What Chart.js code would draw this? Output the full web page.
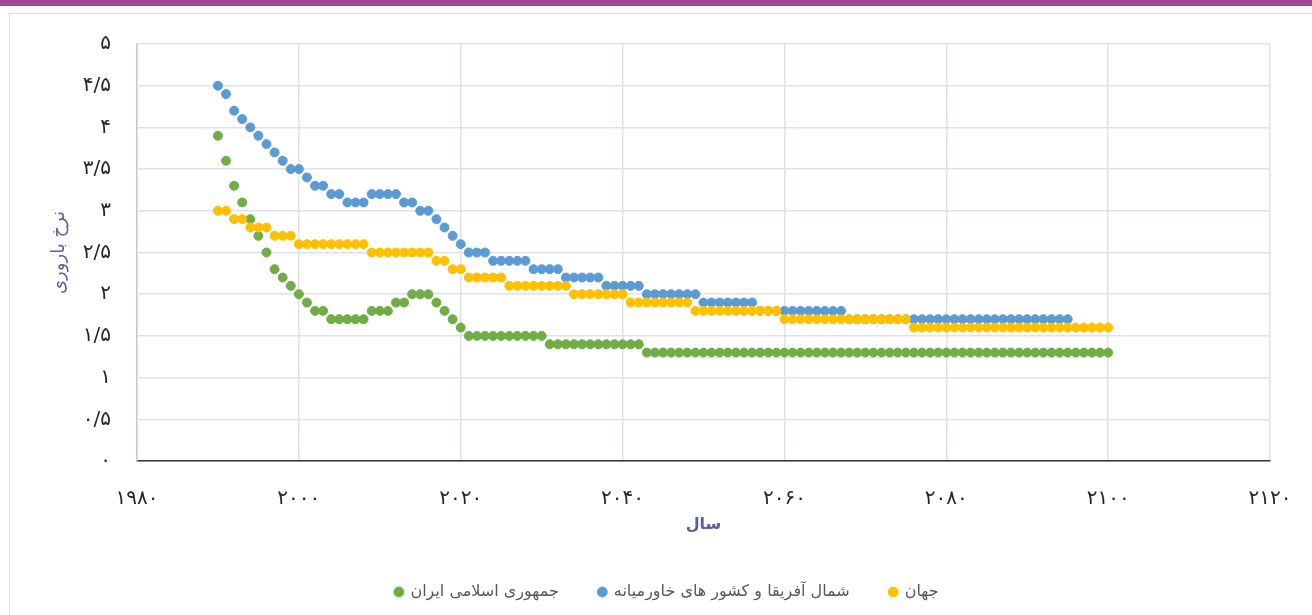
<!DOCTYPE html>
<html lang="fa">
<head>
<meta charset="utf-8">
<title>نرخ باروری</title>
<script src="https://cdn.jsdelivr.net/npm/chart.js@4.4.0/dist/chart.umd.min.js"></script>
<style>
  html, body { margin: 0; padding: 0; background: #fff; }
  body { width: 1312px; height: 615px; position: relative; overflow: hidden; }
  .topbar { position: absolute; left: 0; top: 0; width: 1312px; height: 6px; background: #A14A9B; }
  .frame { position: absolute; left: 9px; top: 13px; width: 1310px; height: 640px; border: 1px solid #DCE0E8; }
  .wrap { position: absolute; left: 0; top: 0; width: 1312px; height: 615px; }
</style>
</head>
<body>
<div class="topbar"></div>
<div class="frame"></div>
<div class="wrap"><canvas id="fertilityChart"></canvas></div>
<script>
/* ============================================================
   DATA
   ============================================================ */
const years = [
    1990, 1991, 1992, 1993, 1994, 1995, 1996, 1997, 1998, 1999,
    2000, 2001, 2002, 2003, 2004, 2005, 2006, 2007, 2008, 2009,
    2010, 2011, 2012, 2013, 2014, 2015, 2016, 2017, 2018, 2019,
    2020, 2021, 2022, 2023, 2024, 2025, 2026, 2027, 2028, 2029,
    2030, 2031, 2032, 2033, 2034, 2035, 2036, 2037, 2038, 2039,
    2040, 2041, 2042, 2043, 2044, 2045, 2046, 2047, 2048, 2049,
    2050, 2051, 2052, 2053, 2054, 2055, 2056, 2057, 2058, 2059,
    2060, 2061, 2062, 2063, 2064, 2065, 2066, 2067, 2068, 2069,
    2070, 2071, 2072, 2073, 2074, 2075, 2076, 2077, 2078, 2079,
    2080, 2081, 2082, 2083, 2084, 2085, 2086, 2087, 2088, 2089,
    2090, 2091, 2092, 2093, 2094, 2095, 2096, 2097, 2098, 2099,
    2100
];

const seriesNames = ["جمهوری اسلامی ایران", "شمال آفریقا و کشور های خاورمیانه", "جهان"];

// Iran, 1990-2100
const iranRate = [
    3.9, 3.6, 3.3, 3.1, 2.9, 2.7, 2.5, 2.3, 2.2, 2.1,
    2.0, 1.9, 1.8, 1.8, 1.7, 1.7, 1.7, 1.7, 1.7, 1.8,
    1.8, 1.8, 1.9, 1.9, 2.0, 2.0, 2.0, 1.9, 1.8, 1.7,
    1.6, 1.5, 1.5, 1.5, 1.5, 1.5, 1.5, 1.5, 1.5, 1.5,
    1.5, 1.4, 1.4, 1.4, 1.4, 1.4, 1.4, 1.4, 1.4, 1.4,
    1.4, 1.4, 1.4, 1.3, 1.3, 1.3, 1.3, 1.3, 1.3, 1.3,
    1.3, 1.3, 1.3, 1.3, 1.3, 1.3, 1.3, 1.3, 1.3, 1.3,
    1.3, 1.3, 1.3, 1.3, 1.3, 1.3, 1.3, 1.3, 1.3, 1.3,
    1.3, 1.3, 1.3, 1.3, 1.3, 1.3, 1.3, 1.3, 1.3, 1.3,
    1.3, 1.3, 1.3, 1.3, 1.3, 1.3, 1.3, 1.3, 1.3, 1.3,
    1.3, 1.3, 1.3, 1.3, 1.3, 1.3, 1.3, 1.3, 1.3, 1.3,
    1.3
];

// North Africa & Middle East, 1990-2095
const menaRate = [
    4.5, 4.4, 4.2, 4.1, 4.0, 3.9, 3.8, 3.7, 3.6, 3.5,
    3.5, 3.4, 3.3, 3.3, 3.2, 3.2, 3.1, 3.1, 3.1, 3.2,
    3.2, 3.2, 3.2, 3.1, 3.1, 3.0, 3.0, 2.9, 2.8, 2.7,
    2.6, 2.5, 2.5, 2.5, 2.4, 2.4, 2.4, 2.4, 2.4, 2.3,
    2.3, 2.3, 2.3, 2.2, 2.2, 2.2, 2.2, 2.2, 2.1, 2.1,
    2.1, 2.1, 2.1, 2.0, 2.0, 2.0, 2.0, 2.0, 2.0, 2.0,
    1.9, 1.9, 1.9, 1.9, 1.9, 1.9, 1.9, 1.8, 1.8, 1.8,
    1.8, 1.8, 1.8, 1.8, 1.8, 1.8, 1.8, 1.8, 1.7, 1.7,
    1.7, 1.7, 1.7, 1.7, 1.7, 1.7, 1.7, 1.7, 1.7, 1.7,
    1.7, 1.7, 1.7, 1.7, 1.7, 1.7, 1.7, 1.7, 1.7, 1.7,
    1.7, 1.7, 1.7, 1.7, 1.7, 1.7
];

// World, 1990-2100
const worldRate = [
    3.0, 3.0, 2.9, 2.9, 2.8, 2.8, 2.8, 2.7, 2.7, 2.7,
    2.6, 2.6, 2.6, 2.6, 2.6, 2.6, 2.6, 2.6, 2.6, 2.5,
    2.5, 2.5, 2.5, 2.5, 2.5, 2.5, 2.5, 2.4, 2.4, 2.3,
    2.3, 2.2, 2.2, 2.2, 2.2, 2.2, 2.1, 2.1, 2.1, 2.1,
    2.1, 2.1, 2.1, 2.1, 2.0, 2.0, 2.0, 2.0, 2.0, 2.0,
    2.0, 1.9, 1.9, 1.9, 1.9, 1.9, 1.9, 1.9, 1.9, 1.8,
    1.8, 1.8, 1.8, 1.8, 1.8, 1.8, 1.8, 1.8, 1.8, 1.8,
    1.7, 1.7, 1.7, 1.7, 1.7, 1.7, 1.7, 1.7, 1.7, 1.7,
    1.7, 1.7, 1.7, 1.7, 1.7, 1.7, 1.6, 1.6, 1.6, 1.6,
    1.6, 1.6, 1.6, 1.6, 1.6, 1.6, 1.6, 1.6, 1.6, 1.6,
    1.6, 1.6, 1.6, 1.6, 1.6, 1.6, 1.6, 1.6, 1.6, 1.6,
    1.6
];

const xTickLabels = ["۱۹۸۰", "۲۰۰۰", "۲۰۲۰", "۲۰۴۰", "۲۰۶۰", "۲۰۸۰", "۲۱۰۰", "۲۱۲۰"];
const yTickLabels = ["۰", "۰/۵", "۱", "۱/۵", "۲", "۲/۵", "۳", "۳/۵", "۴", "۴/۵", "۵"];


/* ============================================================
   DRAW CHART
   ============================================================ */
function toPoints(values) {
    return values.map((v, i) => ({ x: years[i], y: v }));
}

const FONT = "'DejaVu Sans', sans-serif";
const TITLE_COLOR = "#5D5FA5";
const GRID_COLOR = "#DDE1E9";

// legend in the original sits a little right of the canvas centre
const legendShift = {
    id: "legendShift",
    afterLayout(chart) {
        chart.legend.left += 32;
        chart.legend.right += 32;
    }
};

new Chart(document.getElementById("fertilityChart"), {
    type: "scatter",
    data: {
        datasets: [
            {
                label: seriesNames[0],
                data: toPoints(iranRate),
                backgroundColor: "#70AD47",
                borderColor: "#70AD47",
                order: 2
            },
            {
                label: seriesNames[1],
                data: toPoints(menaRate),
                backgroundColor: "#5B9BD5",
                borderColor: "#5B9BD5",
                order: 1
            },
            {
                label: seriesNames[2],
                data: toPoints(worldRate),
                backgroundColor: "#FFC000",
                borderColor: "#FFC000",
                order: 0
            }
        ]
    },
    options: {
        responsive: true,
        maintainAspectRatio: false,
        animation: false,
        elements: {
            point: { radius: 4.5, borderWidth: 1, hoverRadius: 5 }
        },
        layout: {
            padding: { top: 44, right: 42, bottom: 5, left: 0 }
        },
        scales: {
            x: {
                type: "linear",
                min: 1980,
                max: 2120,
                afterFit: s => { s.height = 83; },
                ticks: {
                    stepSize: 20,
                    padding: 14,
                    color: "#262626",
                    font: { family: FONT, size: 20 },
                    callback: v => xTickLabels[Math.round((v - 1980) / 20)]
                },
                grid: {
                    color: GRID_COLOR,
                    lineWidth: 1.5,
                    drawTicks: true,
                    tickLength: 12,
                    tickColor: "rgba(0,0,0,0)"
                },
                border: { color: "#333333", width: 1.5 },
                title: {
                    display: true,
                    text: "سال",
                    color: TITLE_COLOR,
                    font: { family: FONT, size: 16, weight: "bold" },
                    padding: { top: 4, bottom: 10 }
                }
            },
            y: {
                min: 0,
                max: 5,
                afterFit: s => { s.width = 137; },
                ticks: {
                    stepSize: 0.5,
                    padding: 26,
                    color: "#262626",
                    font: { family: FONT, size: 20 },
                    callback: v => yTickLabels[Math.round(v / 0.5)]
                },
                grid: { color: GRID_COLOR, lineWidth: 1.5, drawTicks: false },
                border: { color: "#C5CBD6", width: 1.5 },
                title: {
                    display: true,
                    text: "نرخ باروری",
                    color: TITLE_COLOR,
                    font: { family: FONT, size: 18 },
                    padding: { top: 49, bottom: 0 }
                }
            }
        },
        plugins: {
            tooltip: { enabled: false },
            legend: {
                position: "bottom",
                reverse: true,
                labels: {
                    usePointStyle: true,
                    pointStyle: "circle",
                    boxWidth: 7,
                    boxHeight: 7,
                    padding: 40,
                    color: "#595959",
                    font: { family: FONT, size: 16 }
                }
            }
        }
    },
    plugins: [legendShift]
});
</script>
</body>
</html>
